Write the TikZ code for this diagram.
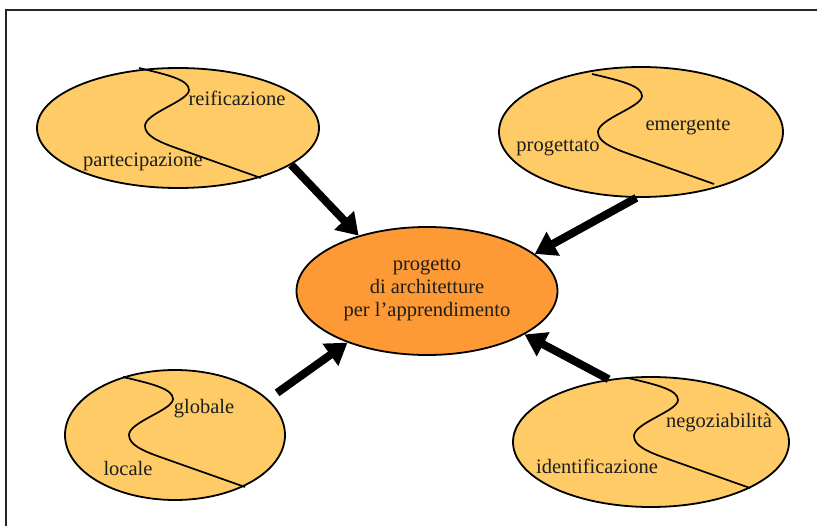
\documentclass[tikz,border=0pt]{standalone}
\usepackage{fontspec}
\setmainfont{Liberation Serif}
\usetikzlibrary{shapes.geometric,arrows.meta}
\definecolor{lightor}{HTML}{FECB66}
\definecolor{darkor}{HTML}{FD9A35}
\definecolor{txt}{HTML}{1E1E1E}
\tikzset{
  oval/.style={ellipse, draw=black, line width=1.8pt, inner sep=0pt},
  side/.style={oval, fill=lightor},
  core/.style={oval, fill=darkor},
  lbl/.style={text=txt, font=\fontsize{20.5}{23}\selectfont, inner sep=0pt},
  arr/.style={line width=8pt, -{Triangle[width=26pt,length=21pt]}},
  pics/scurve/.style={code={
    \draw[line width=1.7pt] (0,0) .. controls (30,7) and (50,12) .. (50,22)
      .. controls (50,33) and (6,45) .. (6,58)
      .. controls (6,68) and (20,74) .. (40,81) -- (122,110);
  }}
}
\begin{document}
\begin{tikzpicture}[x=1pt,y=-1pt]
\useasboundingbox (0,0) rectangle (817,526);
% frame
\draw[line width=2.2pt, black!85] (6,530) -- (6,10) -- (822,10);

% ellipses
\node[side, minimum width=282pt, minimum height=120pt] (tl) at (178,128) {};
\node[side, minimum width=284pt, minimum height=130pt] (tr) at (641,132) {};
\node[side, minimum width=220pt, minimum height=130pt] (bl) at (175,435) {};
\node[side, minimum width=276pt, minimum height=130pt] (br) at (651,442) {};
\node[core, minimum width=261pt, minimum height=128pt] (c) at (427,291) {};

% S-curves
\pic at (139,68) {scurve};
\pic at (592,74) {scurve};
\pic at (123,377) {scurve};
\pic at (628,378) {scurve};

% labels
\node[lbl] (reif) at (237,98) {reificazione};
\node[lbl] (part) at (143,162) {partecipazione};
\node[lbl] (emer) at (688,127) {emergente};
\node[lbl] (prog) at (558,148) {progettato};
\node[lbl] (glob) at (204,409) {globale};
\node[lbl] (loc) at (128,468) {locale};
\node[lbl] (nego) at (719,423) {negoziabilità};
\node[lbl] (iden) at (597,466) {identificazione};
\node[lbl, align=center] (ctext) at (427,290) {progetto\\di architetture\\per l’apprendimento};

% arrows
\draw[arr] (tl.-18) -- (c.141);
\draw[arr] (tr.266) -- (c.19);
\draw[arr, shorten <=11pt] (bl.21) -- (c.213);
\draw[arr] (br.124) -- (c.-24);
\end{tikzpicture}
\end{document}
